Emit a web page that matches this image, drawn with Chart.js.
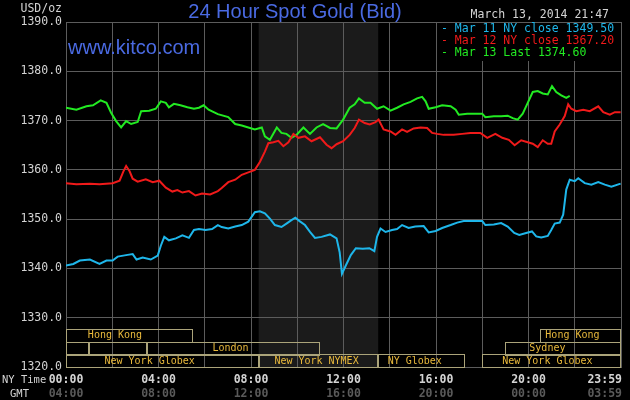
<!DOCTYPE html>
<html><head><meta charset="utf-8">
<script src="https://cdn.jsdelivr.net/npm/chart.js@4"></script>
<style>html,body{margin:0;padding:0;background:#000;}#wrap{width:630px;height:400px;}</style>
</head><body><div id="wrap"><canvas id="c" width="630" height="400"></canvas></div>
<script>
// ---- data (time in minutes after 00:00 NY time) ----
const blueT=[0,19,36,62,87,105,121,134,156,173,183,199,220,238,246,255,267,285,302,319,332,345,362,379,394,404,421,439,456,473,490,503,516,529,542,559,572,585,595,606,620,633,646,663,685,702,710,716,726,739,752,770,787,800,807,816,829,846,859,872,889,906,928,941,959,976,998,1015,1032,1058,1080,1088,1110,1129,1146,1163,1176,1194,1209,1220,1233,1250,1259,1268,1281,1290,1298,1307,1320,1329,1346,1363,1381,1398,1415,1439];
const blueV=[1340.6,1340.9,1341.6,1341.8,1340.9,1341.6,1341.6,1342.4,1342.7,1342.9,1341.8,1342.2,1341.8,1342.6,1344.6,1346.4,1345.7,1346.1,1346.7,1346.2,1347.8,1348.0,1347.8,1348.0,1348.8,1348.4,1348.1,1348.5,1348.8,1349.5,1351.4,1351.6,1351.2,1350.1,1348.8,1348.4,1349.1,1349.8,1350.3,1349.6,1348.8,1347.4,1346.2,1346.4,1346.9,1346.1,1343.3,1338.9,1340.6,1342.7,1344.1,1344.0,1344.1,1343.5,1346.4,1348.1,1347.4,1347.8,1348.0,1348.8,1348.2,1348.5,1348.6,1347.3,1347.6,1348.2,1348.8,1349.3,1349.6,1349.6,1349.6,1348.8,1348.9,1349.2,1348.5,1347.2,1346.8,1347.2,1347.5,1346.5,1346.3,1346.6,1347.8,1349.1,1349.3,1350.9,1356.0,1358.0,1357.7,1358.3,1357.3,1357.0,1357.5,1357.0,1356.6,1357.2];

const redT=[0,27,62,87,121,139,149,156,165,173,186,207,225,242,259,276,289,302,319,336,353,374,394,404,421,439,456,473,490,503,516,525,538,551,564,577,590,603,620,637,659,676,689,702,719,736,749,760,775,788,803,811,824,842,855,872,885,902,920,937,950,963,980,1006,1028,1049,1075,1093,1114,1132,1149,1164,1181,1198,1211,1224,1237,1250,1259,1268,1281,1294,1303,1311,1324,1342,1359,1381,1394,1411,1424,1439];
const redV=[1357.3,1357.1,1357.2,1357.1,1357.3,1357.8,1359.7,1360.8,1359.7,1358.2,1357.6,1358.1,1357.5,1357.8,1356.4,1355.6,1355.9,1355.4,1355.7,1354.8,1355.2,1355.0,1355.7,1356.3,1357.5,1358.0,1359.0,1359.5,1360.0,1361.6,1363.7,1365.4,1365.6,1365.9,1364.8,1365.6,1367.3,1366.5,1366.8,1365.8,1366.6,1365.1,1364.4,1365.2,1365.8,1367.1,1368.5,1370.2,1369.5,1369.2,1369.7,1370.2,1368.2,1367.8,1367.1,1368.2,1367.7,1368.4,1368.6,1368.5,1367.5,1367.3,1367.1,1367.1,1367.3,1367.5,1367.5,1366.5,1367.3,1366.5,1366.1,1365.0,1366.0,1365.6,1365.3,1364.6,1366.0,1365.3,1365.3,1367.8,1369.2,1370.9,1373.3,1372.4,1371.9,1372.2,1371.9,1372.9,1371.7,1371.2,1371.7,1371.7];

const greenT=[0,27,53,70,90,105,117,130,143,156,169,186,195,216,233,246,259,267,280,297,315,332,345,357,370,394,421,439,456,473,490,508,516,529,547,559,572,585,598,616,633,650,667,685,702,719,736,749,760,775,790,807,824,842,859,876,894,911,924,933,941,959,976,998,1011,1019,1041,1062,1080,1088,1110,1129,1146,1159,1172,1185,1198,1211,1224,1237,1250,1261,1272,1285,1298,1307];
const greenV=[1372.6,1372.2,1372.9,1373.1,1374.1,1373.6,1371.6,1369.9,1368.6,1369.9,1369.3,1369.7,1371.9,1372.0,1372.4,1373.9,1373.6,1372.7,1373.4,1373.1,1372.7,1372.4,1372.6,1373.1,1372.2,1371.3,1370.7,1369.3,1369.0,1368.6,1368.2,1368.6,1366.8,1366.1,1368.6,1367.5,1367.3,1366.5,1367.1,1368.6,1367.3,1368.6,1369.3,1368.5,1368.4,1370.2,1372.6,1373.3,1374.5,1373.6,1373.6,1372.4,1372.9,1372.0,1372.6,1373.3,1373.8,1374.5,1374.8,1373.9,1372.4,1372.7,1373.1,1372.9,1372.2,1371.2,1371.4,1371.4,1371.4,1370.7,1370.9,1370.9,1371.0,1370.5,1370.2,1371.4,1373.6,1375.8,1376.0,1375.5,1375.3,1377.0,1375.8,1375.1,1374.6,1375.0];

const seriesNames=['Mar 11 NY close 1349.50','Mar 12 NY close 1367.20','Mar 13 Last 1374.60'];
const headerDate='March 13, 2014 21:47';
const yMin=1320, yMax=1390, yStep=10;
const xTickMinutes=[0,240,480,720,960,1200,1439];
const nyTimeLabels=['00:00','04:00','08:00','12:00','16:00','20:00','23:59'];
const gmtLabels=['04:00','08:00','12:00','16:00','20:00','00:00','03:59'];
const nymexShade=[500,810];
// sessions: row (0 top .. 2 bottom), start, end, label, label centre (minutes)
const sessRow=[0,0,1,1,1,1,2,2,2,2];
const sessStart=[0,1230,0,60,210,1140,0,500,810,1080];
const sessEnd=[330,1440,60,210,660,1440,500,810,1035,1440];
const sessLabel=['Hong Kong','Hong Kong','','','London','Sydney','New York Globex','New York NYMEX','NY Globex','New York Globex'];
const sessLabelAt=[127,1314,0,0,427,1249,217,650,905,1249];

const COLORS=['#1eb6ea','#f01a1a','#22ea22'];
const GRID='#5c5c5c';
const MONO='"DejaVu Sans Mono", monospace';

const mk=(T,V)=>T.map((t,i)=>({x:t,y:V[i]}));

const deco={
  id:'deco',
  beforeDraw(chart){
    const {ctx,chartArea:a,scales:{x}}=chart;
    ctx.save();
    ctx.fillStyle='#000';ctx.fillRect(0,0,chart.width,chart.height);
    const x1=x.getPixelForValue(nymexShade[0]),x2=x.getPixelForValue(nymexShade[1]);
    ctx.fillStyle='#1b1b1b';ctx.fillRect(x1,a.top,x2-x1,a.bottom-a.top);
    ctx.restore();
  },
  beforeDatasetsDraw(chart){
    const {ctx,chartArea:a,scales:{x}}=chart;
    ctx.save();
    ctx.fillStyle='#000';
    const lx=x.getPixelForValue(960)+1;
    ctx.fillRect(lx,a.top+1,a.right-1-lx,38);
    ctx.restore();
  },
  afterDatasetsDraw(chart){
    const {ctx,chartArea:a,scales:{x}}=chart;
    ctx.save();
    // sessions
    const rowH=12.7;
    ctx.lineWidth=1;
    for(let i=0;i<sessRow.length;i++){
      const top=a.bottom-(3-sessRow[i])*rowH;
      const xs=Math.round(x.getPixelForValue(sessStart[i]))+0.5;
      const xe=Math.round(x.getPixelForValue(Math.min(sessEnd[i],1440)))-0.5;
      ctx.strokeStyle='#aba47a';
      ctx.strokeRect(xs,Math.round(top)+0.5,xe-xs,Math.round(rowH));
      if(sessLabel[i]){
        ctx.fillStyle='#e9b93c';
        ctx.font='10px '+MONO;
        ctx.textAlign='center';ctx.textBaseline='middle';
        ctx.fillText(sessLabel[i],x.getPixelForValue(sessLabelAt[i]),top+rowH/2+0.5);
      }
    }
    // title etc
    ctx.textBaseline='middle';
    ctx.fillStyle='#4a6ae2';
    ctx.font='20px "Liberation Sans", Arial, sans-serif';
    ctx.textAlign='center';
    ctx.fillText('24 Hour Spot Gold (Bid)',295,12);
    ctx.textAlign='left';
    ctx.fillText('www.kitco.com',68,48);
    ctx.font='11.5px '+MONO;
    ctx.fillStyle='#d4d4d4';
    ctx.textAlign='right';
    ctx.fillText(headerDate,609,15);
    ctx.fillText('USD/oz',62,9);
    ctx.textAlign='left';
    for(let i=0;i<seriesNames.length;i++){
      ctx.fillStyle=COLORS[i];
      ctx.fillText('- '+seriesNames[i],441,29+12*i);
    }
    // x labels
    for(let i=0;i<xTickMinutes.length;i++){
      const px=x.getPixelForValue(xTickMinutes[i]);
      const last=i===xTickMinutes.length-1;
      ctx.textAlign=last?'right':'center';
      const tx=last?a.right+1:px;
      ctx.font='bold 11.5px '+MONO;
      ctx.fillStyle='#d4d4d4';
      ctx.fillText(nyTimeLabels[i],tx,380);
      ctx.fillStyle='#5a5a5a';
      ctx.fillText(gmtLabels[i],tx,394);
    }
    ctx.font='10.5px '+MONO;
    ctx.fillStyle='#d4d4d4';
    ctx.textAlign='left';
    ctx.fillText('NY Time',2,380);
    ctx.fillText('GMT',10,394);
    ctx.restore();
  }
};

new Chart(document.getElementById('c'),{
  type:'line',
  data:{datasets:[
    {label:seriesNames[0],data:mk(blueT,blueV),borderColor:COLORS[0]},
    {label:seriesNames[1],data:mk(redT,redV),borderColor:COLORS[1]},
    {label:seriesNames[2],data:mk(greenT,greenV),borderColor:COLORS[2]}
  ]},
  options:{
    responsive:false,animation:false,devicePixelRatio:1,
    layout:{padding:{top:22,right:9,left:0,bottom:0}},
    elements:{point:{radius:0},line:{borderWidth:2,tension:0}},
    plugins:{legend:{display:false},tooltip:{enabled:false},title:{display:false}},
    scales:{
      x:{type:'linear',min:0,max:1440,
        ticks:{display:false,stepSize:120},
        grid:{color:GRID,drawTicks:false},
        border:{color:GRID},
        afterFit(s){s.height=33;}},
      y:{min:yMin,max:yMax,
        ticks:{stepSize:yStep,padding:4,color:'#d4d4d4',font:{family:'DejaVu Sans Mono',size:11.5},callback:v=>v.toFixed(1)},
        grid:{color:GRID,drawTicks:false},
        border:{color:GRID},
        afterFit(s){s.width=66;}}
    }
  },
  plugins:[deco]
});
</script></body></html>
